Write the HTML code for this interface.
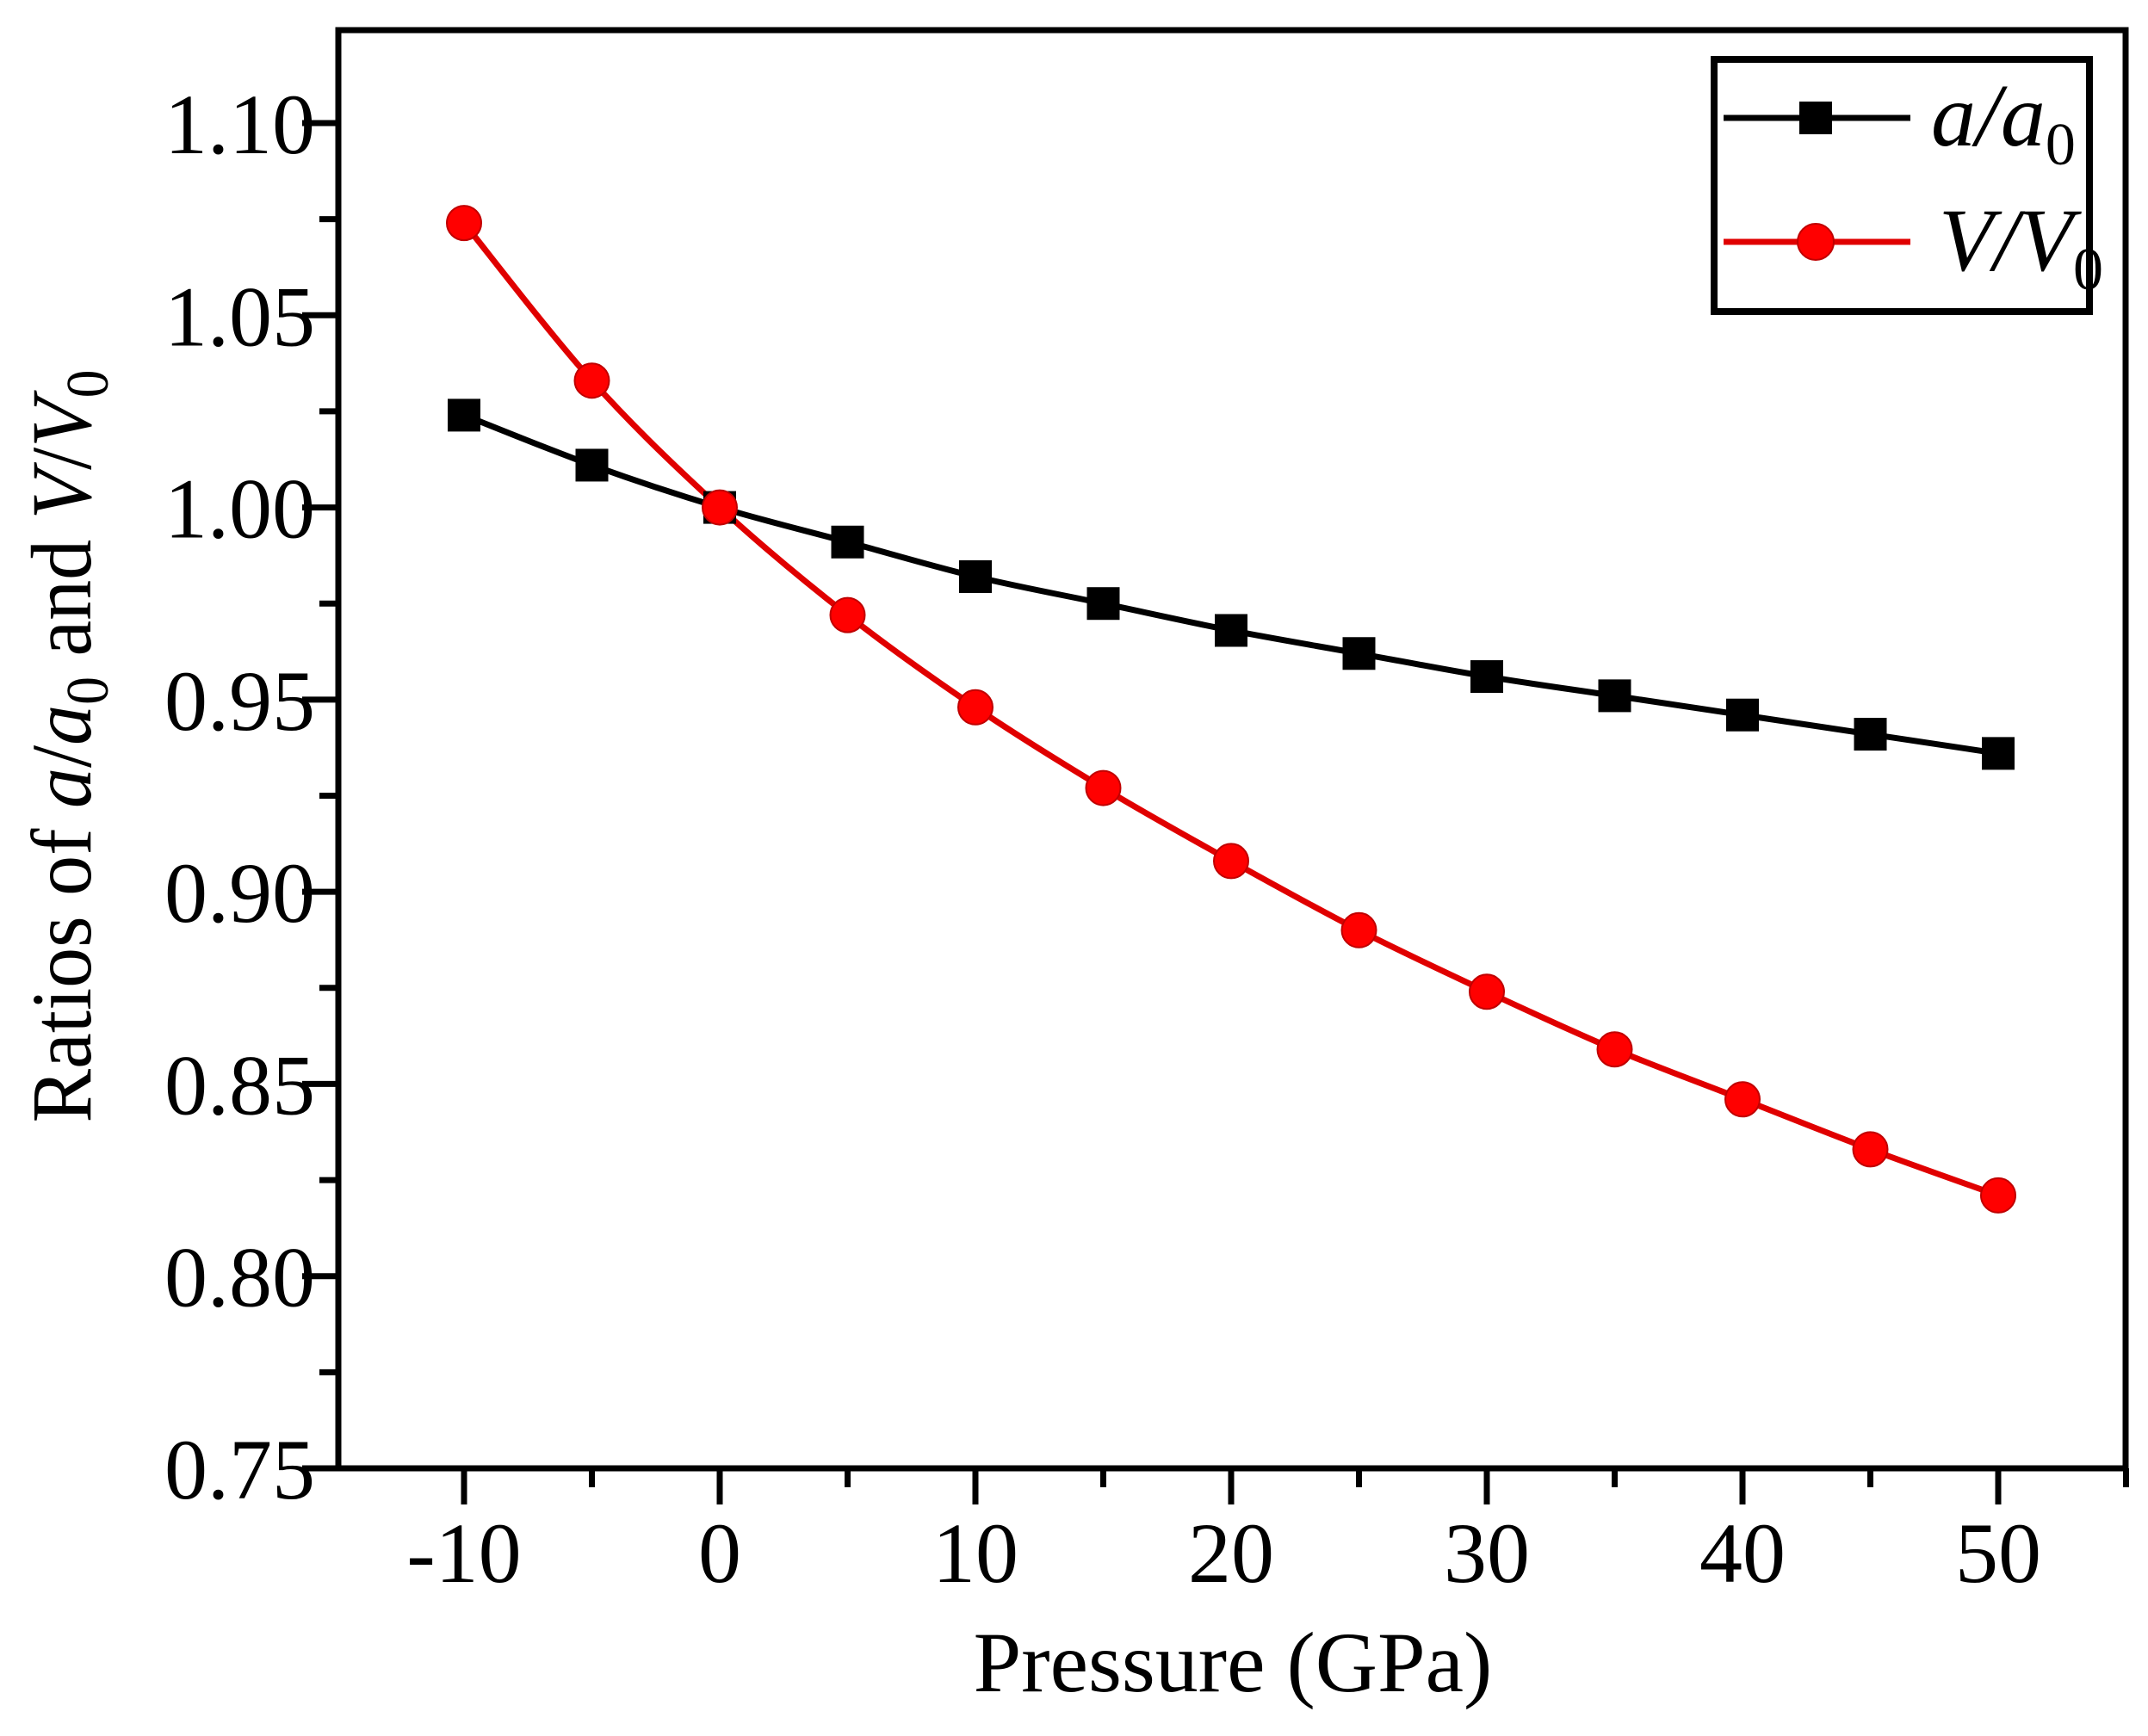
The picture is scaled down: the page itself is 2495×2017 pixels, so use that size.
<!DOCTYPE html>
<html><head><meta charset="utf-8"><style>
html,body{margin:0;padding:0;background:#fff;}
svg{display:block;font-family:"Liberation Serif",serif;}
</style></head><body>
<svg id="chart" width="2495" height="2017" viewBox="0 0 2495 2017" xmlns="http://www.w3.org/2000/svg">
<g id="axes"></g>
<g id="series"></g>
<g id="legend">
  <rect x="1991" y="69" width="436" height="293" fill="#fff" stroke="#000" stroke-width="8"/>
  <line x1="2002" y1="137" x2="2219" y2="137" stroke="#000" stroke-width="7"/>
  <rect x="2090" y="118" width="38" height="38" fill="#000"/>
  <text x="2243" y="169" font-size="104" font-style="italic">a/a<tspan font-style="normal" font-size="70" dy="22">0</tspan></text>
  <line x1="2002" y1="281" x2="2219" y2="281" stroke="#e00000" stroke-width="7"/>
  <circle cx="2109" cy="281" r="21" fill="#ff0000" stroke="#c00000" stroke-width="2"/>
  <text x="2252" y="314" font-size="104" font-style="italic">V/V<tspan font-style="normal" font-size="70" dy="22">0</tspan></text>
</g>
</svg>
<script>
const pressures = [-10,-5,0,5,10,15,20,25,30,35,40,45,50];
const aRatio = [1.024,1.011,1.000,0.991,0.982,0.975,0.968,0.962,0.956,0.951,0.946,0.941,0.936];
const vRatio = [1.074,1.033,1.000,0.972,0.948,0.927,0.908,0.890,0.874,0.859,0.846,0.833,0.821];
const xTicks = [-10,0,10,20,30,40,50];
const xMinor = [-15,-5,5,15,25,35,45,55];
const yTicks = [0.75,0.80,0.85,0.90,0.95,1.00,1.05,1.10];
const yTickLabels = ["0.75","0.80","0.85","0.90","0.95","1.00","1.05","1.10"];
const yMinor = [0.775,0.825,0.875,0.925,0.975,1.025,1.075];

const NS="http://www.w3.org/2000/svg";
const L=393,R=2469,T=35,B=1706;
function xs(v){return 539+(v+10)*(2321-539)/60;}
function ys(v){return 1706-(v-0.75)*(1706-143)/0.35;}
function mk(tag,attrs,parent){const e=document.createElementNS(NS,tag);for(const k in attrs)e.setAttribute(k,attrs[k]);parent.appendChild(e);return e;}
const axes=document.getElementById('axes'),series=document.getElementById('series');

let frame=mk('rect',{x:L,y:T,width:R-L,height:B-T,fill:'none',stroke:'#000','stroke-width':7},axes);



xTicks.forEach((v,i)=>{
  let t=mk('line',{x1:xs(v),x2:xs(v),y1:B,y2:B+42,stroke:'#000','stroke-width':7},axes);
  
  
  let lb=mk('text',{x:xs(v),y:1838,'font-size':100,'text-anchor':'middle'},axes);
  lb.textContent=String(v);
  
  
});
xMinor.forEach(v=>{
  if(xs(v)<L-1||xs(v)>R+1)return;
  let t=mk('line',{x1:xs(v),x2:xs(v),y1:B,y2:B+22,stroke:'#000','stroke-width':7},axes);
  
  
});
yTicks.forEach((v,i)=>{
  let t=mk('line',{x1:L-42,x2:L,y1:ys(v),y2:ys(v),stroke:'#000','stroke-width':7},axes);
  
  
  let lb=mk('text',{x:366,y:ys(v)+35,'font-size':100,'text-anchor':'end'},axes);
  lb.textContent=yTickLabels[i];
  
  
});
yMinor.forEach(v=>{
  let t=mk('line',{x1:L-22,x2:L,y1:ys(v),y2:ys(v),stroke:'#000','stroke-width':7},axes);
  
  
});
let xt=mk('text',{x:1432,y:1965,'font-size':100,'text-anchor':'middle'},axes);
xt.textContent='Pressure (GPa)';


let yt=mk('text',{x:0,y:0,'font-size':100,'text-anchor':'middle',textLength:875,lengthAdjust:'spacingAndGlyphs',transform:'translate(105,867) rotate(-90)'},axes);
yt.innerHTML='Ratios of <tspan font-style="italic">a</tspan>/<tspan font-style="italic">a</tspan><tspan font-size="70" dy="20">0</tspan><tspan dy="-20"> and </tspan><tspan font-style="italic">V</tspan>/<tspan font-style="italic">V</tspan><tspan font-size="70" dy="20">0</tspan>';



function spline(pts){
  let d='M'+pts[0][0]+','+pts[0][1];
  for(let i=0;i<pts.length-1;i++){
    const p0=pts[Math.max(0,i-1)],p1=pts[i],p2=pts[i+1],p3=pts[Math.min(pts.length-1,i+2)];
    const c1=[p1[0]+(p2[0]-p0[0])/6,p1[1]+(p2[1]-p0[1])/6];
    const c2=[p2[0]-(p3[0]-p1[0])/6,p2[1]-(p3[1]-p1[1])/6];
    d+=' C'+c1+' '+c2+' '+p2;
  }
  return d;
}
const aPts=pressures.map((p,i)=>[xs(p),ys(aRatio[i])]);
const vPts=pressures.map((p,i)=>[xs(p),ys(vRatio[i])]);
let la=mk('path',{d:spline(aPts),fill:'none',stroke:'#000','stroke-width':7},series);


let lv=mk('path',{d:spline(vPts),fill:'none',stroke:'#e00000','stroke-width':7},series);


aPts.forEach(p=>{
  let m=mk('rect',{x:p[0]-19,y:p[1]-19,width:38,height:38,fill:'#000'},series);
  
  
});
vPts.forEach(p=>{
  let m=mk('circle',{cx:p[0],cy:p[1],r:20,fill:'#ff0000',stroke:'#c00000','stroke-width':2},series);
  
  
});
</script>
</body></html>
